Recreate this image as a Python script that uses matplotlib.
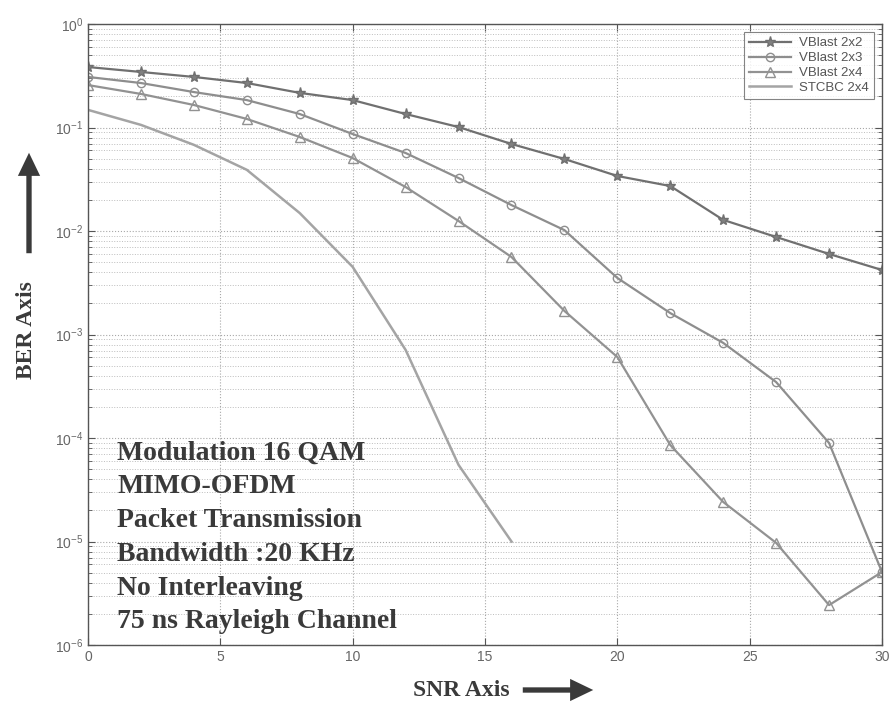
import numpy as np
import matplotlib
matplotlib.use('Agg')
import matplotlib.pyplot as plt
from matplotlib.patches import FancyArrowPatch
from matplotlib.ticker import LogLocator, NullFormatter

plt.rcParams['font.family'] = ['Liberation Sans', 'DejaVu Sans']
plt.rcParams['mathtext.fontset'] = 'custom'
plt.rcParams['mathtext.rm'] = 'Liberation Sans'
plt.rcParams['mathtext.it'] = 'Liberation Sans'

# SNR points (dB)
snr = [0, 2, 4, 6, 8, 10, 12, 14, 16, 18, 20, 22, 24, 26, 28, 30]
snr_stcbc = [0, 2, 4, 6, 8, 10, 12, 14, 16]

# BER values
ber_2x2 = [0.384, 0.344, 0.308, 0.269, 0.216, 0.184, 0.135, 0.101,
           0.0693, 0.0496, 0.034, 0.0272, 0.0128, 0.00875, 0.006, 0.0042]
ber_2x3 = [0.308, 0.269, 0.220, 0.184, 0.135, 0.0865, 0.0567, 0.0325,
           0.0178, 0.0102, 0.00352, 0.00161, 8.3e-4, 3.47e-4, 8.95e-5, 5.07e-6]
ber_2x4 = [0.257, 0.211, 0.165, 0.121, 0.081, 0.0507, 0.0266, 0.0125,
           0.00561, 0.00169, 6.06e-4, 8.55e-5, 2.41e-5, 9.7e-6, 2.43e-6, 5.07e-6]
ber_stcbc = [0.148, 0.106, 0.068, 0.039, 0.0149, 0.0045, 7.1e-4, 5.5e-5, 1.0e-5]

info_lines = ['Modulation 16 QAM', 'MIMO-OFDM', 'Packet Transmission',
              'Bandwidth :20 KHz', 'No Interleaving', '75 ns Rayleigh Channel']

fig = plt.figure(figsize=(8.91, 7.11), dpi=100)
ax = fig.add_axes([88 / 891, 1 - 645 / 711, 794 / 891, 621 / 711])

ax.semilogy(snr, ber_2x2, color='#707070', lw=1.6, marker='*', ms=8,
            mfc='#808080', mec='#707070', label='VBlast 2x2')
ax.semilogy(snr, ber_2x3, color='#8e8e8e', lw=1.6, marker='o', ms=6,
            mfc='none', mec='#8e8e8e', label='VBlast 2x3')
ax.semilogy(snr, ber_2x4, color='#929292', lw=1.6, marker='^', ms=7,
            mfc='none', mec='#929292', label='VBlast 2x4')
ax.semilogy(snr_stcbc, ber_stcbc, color='#a4a4a4', lw=1.8, label='STCBC 2x4')

ax.set_xlim(0, 30)
ax.set_ylim(1e-6, 1)
ax.set_xticks([0, 5, 10, 15, 20, 25, 30])
ax.yaxis.set_major_locator(LogLocator(base=10, numticks=10))
ax.yaxis.set_minor_locator(LogLocator(base=10, subs=np.arange(2, 10), numticks=20))
ax.yaxis.set_minor_formatter(NullFormatter())

ax.grid(True, which='major', ls=':', color='#a8a8a8', lw=0.8)
ax.grid(True, which='minor', axis='y', ls=':', color='#bdbdbd', lw=0.7)
ax.tick_params(which='both', direction='in', top=True, right=True,
               labelsize=10, labelcolor='#666666', color='#555555')
ax.tick_params(which='major', length=5)
ax.tick_params(which='minor', length=3)
for s in ax.spines.values():
    s.set_color('#555555')
    s.set_linewidth(1.0)

leg = ax.legend(loc='upper right', fontsize=9.5, frameon=True, fancybox=False,
                borderaxespad=0.6, handlelength=3.2, labelspacing=0.2,
                borderpad=0.4, handletextpad=0.6)
leg.get_frame().set_edgecolor('#666666')
leg.get_frame().set_linewidth(0.8)
for t in leg.get_texts():
    t.set_color('#555555')

# info block inside the axes
for i, line in enumerate(info_lines):
    fig.text(117 / 891, 1 - (453 + i * 33.8) / 711, line, fontsize=20,
             fontweight='bold', family='Liberation Serif', color='#3a3a3a',
             va='center', ha='left')

# axis labels with arrows
fig.text(27 / 891, 1 - 330 / 711, 'BER Axis', rotation=90, fontsize=17,
         fontweight='bold', family='Liberation Serif', color='#3a3a3a',
         ha='center', va='center')
fig.text(461 / 891, 1 - 690 / 711, 'SNR Axis', fontsize=17,
         fontweight='bold', family='Liberation Serif', color='#3a3a3a',
         ha='center', va='center')

arrow_style = 'simple,head_length=0.52,head_width=0.5,tail_width=0.12'
up_arrow = FancyArrowPatch((29 / 891, 1 - 256 / 711), (29 / 891, 1 - 150 / 711),
                           transform=fig.transFigure, arrowstyle=arrow_style,
                           mutation_scale=32, color='#3a3a3a', lw=0)
right_arrow = FancyArrowPatch((520 / 891, 1 - 690 / 711), (596 / 891, 1 - 690 / 711),
                              transform=fig.transFigure, arrowstyle=arrow_style,
                              mutation_scale=32, color='#3a3a3a', lw=0)
fig.add_artist(up_arrow)
fig.add_artist(right_arrow)

fig.savefig('out.png', dpi=100)
